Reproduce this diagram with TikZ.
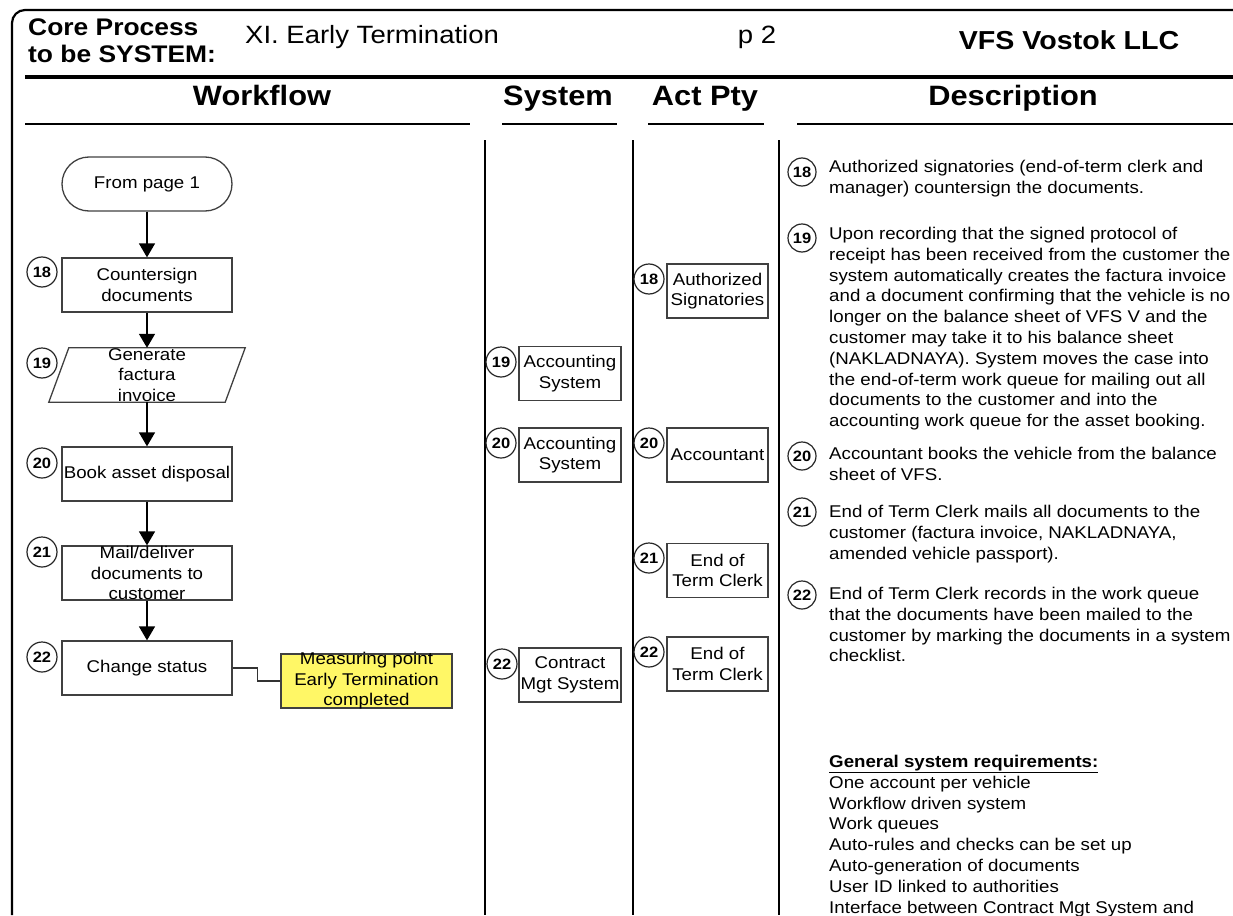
\documentclass[tikz,border=0pt]{standalone}
\usepackage{fontspec}
\setmainfont{Liberation Sans}[FakeStretch=1.1]
\usetikzlibrary{arrows.meta, positioning, shapes.geometric}

\begin{document}
\begin{tikzpicture}[
  x=1pt, y=-1pt,
  % Flow boxes in the workflow lane
  wbox/.style={rectangle, draw=black!75, line width=1.3pt,
               minimum width=170pt, minimum height=54pt, inner sep=0pt,
               font=\fontsize{17}{20.5}\selectfont, align=center},
  % Narrow boxes in the System / Act Pty lanes
  lbox/.style={rectangle, draw=black!75, line width=1.3pt,
               minimum width=102pt, minimum height=54pt, inner sep=0pt,
               font=\fontsize{17}{20.5}\selectfont, align=center},
  % Text laid over a box (may run past its edges)
  wtext/.style={inner sep=0pt, font=\fontsize{17}{20.5}\selectfont, align=center},
  % Step number circles
  num/.style={circle, draw=black!85, line width=1.2pt, minimum size=30pt,
              inner sep=0pt, font=\fontsize{15}{15}\selectfont\bfseries},
  dnum/.style={num, minimum size=28pt},
  desc/.style={anchor=north west, inner sep=0pt, align=left,
               font=\fontsize{17}{20.8}\selectfont},
  colhead/.style={anchor=base, inner sep=0pt, font=\fontsize{28}{28}\selectfont\bfseries},
  arrow/.style={-{Triangle[length=14pt, width=16pt]}, line width=1.5pt},
  conn/.style={line width=1.3pt, draw=black!80},
  lane/.style={line width=2.2pt}
]
\useasboundingbox (0,0) rectangle (1233,915);

%% ── Frame and header ─────────────────────────────────────────
\draw[lane, rounded corners=13pt] (12,915) -- (12,10) -- (1233,10);
\node[anchor=base west, inner sep=0pt, font=\fontsize{24}{24}\selectfont\bfseries]
      (core1) at (28,36) {Core Process};
\node[anchor=base west, inner sep=0pt, font=\fontsize{24}{24}\selectfont\bfseries]
      (core2) at (28,63) {to be SYSTEM:};
\node[anchor=base west, inner sep=0pt, font=\fontsize{25}{25}\selectfont]
      (title) at (245,44) {XI. Early Termination};
\node[anchor=base, inner sep=0pt, font=\fontsize{25}{25}\selectfont]
      (page) at (757,44) {p 2};
\node[anchor=base, inner sep=0pt, font=\fontsize{26}{26}\selectfont\bfseries]
      (firm) at (1069,50) {VFS Vostok LLC};
\draw[line width=4pt] (25,77) -- (1233,77);

%% ── Column heads and lanes ───────────────────────────────────
\node[colhead] (hwf)   at (262,106)  {Workflow};
\node[colhead] (hsys)  at (558,106)  {System};
\node[colhead] (hact)  at (705,106)  {Act Pty};
\node[colhead] (hdesc) at (1013,106) {Description};
\draw[line width=1.5pt] (25,124)  -- (470,124);
\draw[line width=1.5pt] (502,124) -- (617,124);
\draw[line width=1.5pt] (648,124) -- (764,124);
\draw[line width=1.5pt] (797,124) -- (1233,124);
\draw[lane] (485,140) -- (485,915);
\draw[lane] (633,140) -- (633,915);
\draw[lane] (779,140) -- (779,915);

%% ── Workflow lane ────────────────────────────────────────────
\node[wbox, rounded corners=27pt] (start) at (147,184) {From page 1};
\node[wbox] (b18) at (147,285) {Countersign\\documents};
% data step: parallelogram drawn on the anchors of a hidden box
\node[rectangle, minimum width=176pt, minimum height=54pt, inner sep=0pt]
      (p19) at (147,375) {};
\draw[draw=black!75, line width=1.3pt]
      ([xshift=-10pt]p19.south west) -- ([xshift=10pt]p19.north west)
   -- ([xshift=10pt]p19.north east) -- ([xshift=-10pt]p19.south east) -- cycle;
\node[wtext] (p19t) at (p19) {Generate\\factura\\invoice};
\node[wbox] (b20) at (147,474) {Book asset disposal};
\node[wbox] (b21) at (147,573) {};
\node[wtext] (b21t) at (b21) {Mail/deliver\\documents to\\customer};
\node[wbox] (b22) at (147,668) {Change status};
\node[wbox, fill=yellow!60, minimum width=171pt] (meas) at (366.5,681) {};
\node[wtext] (meast) at (meas) {Measuring point\\Early Termination\\completed};

\draw[arrow] (start) -- (b18);
\draw[arrow] (b18) -- (p19);
\draw[arrow] (p19) -- (b20);
\draw[arrow] (b20) -- (b21);
\draw[arrow] (b21) -- (b22);
\draw[conn] (b22.east) -- ++(25,0) |- (meas.west);

\node[num] (w18) at (42,272) {18};
\node[num] (w19) at (42,363) {19};
\node[num] (w20) at (42,463) {20};
\node[num] (w21) at (42,552) {21};
\node[num] (w22) at (42,657) {22};

%% ── System lane ──────────────────────────────────────────────
\node[lbox] (s19) at (570,373.5) {Accounting\\System};
\node[lbox] (s20) at (570,455)   {Accounting\\System};
\node[lbox] (s22) at (570,675)   {Contract\\Mgt System};
\node[num] (sn19) at (501,362) {19};
\node[num] (sn20) at (501,443) {20};
\node[num] (sn22) at (502,664) {22};

%% ── Act Pty lane ─────────────────────────────────────────────
\node[lbox, minimum width=101pt] (a18) at (717.5,291)   {Authorized\\Signatories};
\node[lbox, minimum width=101pt] (a20) at (717.5,455)   {Accountant};
\node[lbox, minimum width=101pt] (a21) at (717.5,570.5) {End of\\Term Clerk};
\node[lbox, minimum width=101pt] (a22) at (717.5,664)   {End of\\Term Clerk};
\node[num] (an18) at (649,279) {18};
\node[num] (an20) at (649,443) {20};
\node[num] (an21) at (649,558) {21};
\node[num] (an22) at (649,652) {22};

%% ── Description lane ─────────────────────────────────────────
\node[dnum] (d18) at (802,172) {18};
\node[desc] (t18) at (829,160)
  {Authorized signatories (end-of-term clerk and\\
   manager) countersign the documents.};
\node[dnum] (d19) at (802,238) {19};
\node[desc] (t19) at (829,227)
  {Upon recording that the signed protocol of\\
   receipt has been received from the customer the\\
   system automatically creates the factura invoice\\
   and a document confirming that the vehicle is no\\
   longer on the balance sheet of VFS V and the\\
   customer may take it to his balance sheet\\
   (NAKLADNAYA). System moves the case into\\
   the end-of-term work queue for mailing out all\\
   documents to the customer and into the\\
   accounting work queue for the asset booking.};
\node[dnum] (d20) at (802,456) {20};
\node[desc] (t20) at (829,447)
  {Accountant books the vehicle from the balance\\
   sheet of VFS.};
\node[dnum] (d21) at (802,512) {21};
\node[desc] (t21) at (829,505)
  {End of Term Clerk mails all documents to the\\
   customer (factura invoice, NAKLADNAYA,\\
   amended vehicle passport).};
\node[dnum] (d22) at (802,595) {22};
\node[desc] (t22) at (829,587)
  {End of Term Clerk records in the work queue\\
   that the documents have been mailed to the\\
   customer by marking the documents in a system\\
   checklist.};
\node[desc] (treq) at (829,755)
  {\textbf{\underline{General system requirements:}}\\
   One account per vehicle\\
   Workflow driven system\\
   Work queues\\
   Auto-rules and checks can be set up\\
   Auto-generation of documents\\
   User ID linked to authorities\\
   Interface between Contract Mgt System and};

\end{tikzpicture}
\end{document}
